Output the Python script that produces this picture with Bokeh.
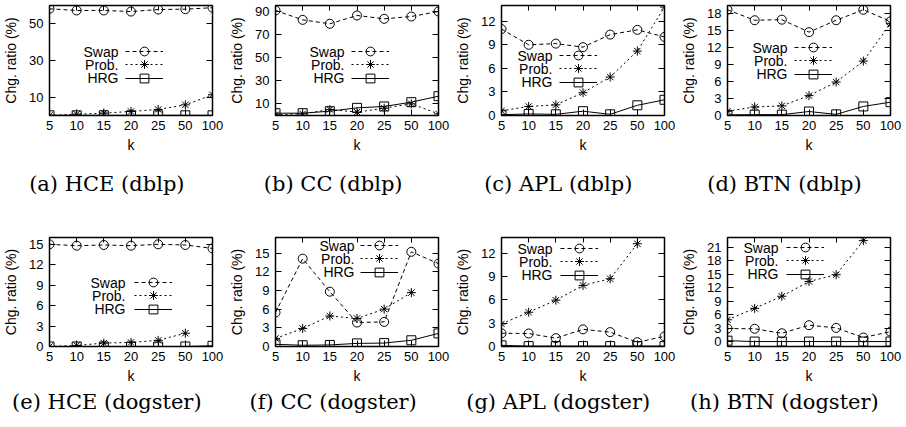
from bokeh.plotting import figure
from bokeh.layouts import column, row
from bokeh.models import Range1d, FixedTicker, LinearAxis, Legend, LegendItem, Label, Title
from bokeh.embed import file_html
from bokeh.resources import INLINE

NaN = float("nan")

k_labels = ["5", "10", "15", "20", "25", "50", "100"]
series_names = ["Swap", "Prob.", "HRG"]

# (a) HCE (dblp)
a_swap = [58.2, 57.3, 57.3, 56.7, 57.8, 58.0, 58.8]
a_prob = [0.1, 0.7, 1.3, 2.2, 3.3, 5.8, 11.3]
a_hrg = [0.1, 0.1, 0.1, 0.1, 0.1, 0.1, 0.1]
# (b) CC (dblp)
b_swap = [90.7, 82.6, 79.2, 86.4, 83.5, 85.5, 89.8]
b_prob = [0.6, 1.4, 5.2, 2.9, 6.3, 10.1, 1.4]
b_hrg = [2.0, 2.0, 3.7, 6.6, 7.8, 11.5, 16.7]
# (c) APL (dblp)
c_swap = [11.0, 9.0, 9.15, 8.7, 10.3, 10.9, 10.0]
c_prob = [0.6, 1.15, 1.35, 2.9, 4.9, 8.2, 13.8]
c_hrg = [0.1, 0.2, 0.15, 0.55, 0.15, 1.3, 2.0]
# (d) BTN (dblp)
d_swap = [18.65, 16.8, 16.9, 14.7, 16.8, 18.65, 16.6]
d_prob = [0.75, 1.5, 1.7, 3.5, 5.9, 9.6, 16.2]
d_hrg = [0.1, 0.15, 0.15, 0.7, 0.2, 1.6, 2.35]
# (e) HCE (dogster)
e_swap = [15.0, 14.8, 14.9, 14.8, 15.0, 14.9, 14.4]
e_prob = [0.0, 0.15, 0.5, 0.6, 0.9, 1.95, NaN]
e_hrg = [0.0, 0.0, 0.0, 0.0, 0.0, 0.0, 0.1]
# (f) CC (dogster)
f_swap = [5.45, 14.1, 8.8, 3.85, 3.95, 15.2, 13.3]
f_prob = [1.3, 2.9, 4.9, 4.5, 6.0, 8.65, NaN]
f_hrg = [0.35, 0.2, 0.25, 0.5, 0.55, 1.0, 2.1]
# (g) APL (dogster)
g_swap = [1.7, 1.67, 1.07, 2.2, 1.85, 0.55, 1.3]
g_prob = [2.9, 4.4, 5.95, 7.85, 8.7, 13.2, NaN]
g_hrg = [0.15, 0.05, 0.05, 0.05, 0.05, 0.05, 0.05]
# (h) BTN (dogster)
h_swap = [2.9, 2.85, 1.85, 3.65, 3.05, 0.9, 2.2]
h_prob = [4.85, 7.4, 10.1, 13.4, 14.9, 22.5, NaN]
h_hrg = [0.2, 0.0, 0.0, 0.0, 0.0, 0.0, 0.0]

captions = ["(a) HCE (dblp)", "(b) CC (dblp)", "(c) APL (dblp)", "(d) BTN (dblp)",
            "(e) HCE (dogster)", "(f) CC (dogster)", "(g) APL (dogster)", "(h) BTN (dogster)"]
data = [(a_swap, a_prob, a_hrg), (b_swap, b_prob, b_hrg), (c_swap, c_prob, c_hrg),
        (d_swap, d_prob, d_hrg), (e_swap, e_prob, e_hrg), (f_swap, f_prob, f_hrg),
        (g_swap, g_prob, g_hrg), (h_swap, h_prob, h_hrg)]
y_ranges = [(0, 60), (0, 95), (0, 14), (0, 19.4), (0, 16), (0, 17.5), (0, 14), (-1.1, 23.2)]
y_ticks = [[10, 30, 50], [10, 30, 50, 70, 90], [0, 3, 6, 9, 12], [0, 3, 6, 9, 12, 15, 18],
           [0, 3, 6, 9, 12, 15], [0, 3, 6, 9, 12, 15], [0, 3, 6, 9, 12], [0, 3, 6, 9, 12, 15, 18, 21]]

# legend layout per panel: text right edge, sample left edge, first row centre (px from frame top/left)
legend_pos = [(69, 76, 46), (69, 76, 46), (51, 58, 50), (60, 67, 42),
              (76, 85, 45), (79, 85, 8), (51, 59, 11), (51, 59, 10)]
ROW = 13.3

SANS = "Liberation Sans"
SERIF = "DejaVu Serif"
CAP_SIZE = 21
styles = [dict(dash="4 3", marker="circle"), dict(dash="2 3", marker="asterisk"),
          dict(dash="solid", marker="square")]

# approximate DejaVu Serif advance widths (em) for centring captions
_W = {" ": 0.318, "(": 0.390, ")": 0.390, "a": 0.596, "b": 0.640, "c": 0.560, "d": 0.640,
      "e": 0.592, "f": 0.370, "g": 0.640, "h": 0.644, "l": 0.320, "o": 0.602, "p": 0.640,
      "r": 0.478, "s": 0.513, "t": 0.402, "A": 0.722, "B": 0.735, "C": 0.733, "E": 0.729,
      "H": 0.872, "L": 0.673, "N": 0.865, "P": 0.690, "T": 0.687}


def text_w(s, size):
    return sum(_W.get(ch, 0.6) for ch in s) * size


FW = 163
G = 22
LEFT = 48


def make(i):
    top = i < 4
    last = (i % 4) == 3
    fh = 110 if top else 109
    p = figure(frame_width=FW, frame_height=fh, x_range=Range1d(0, len(k_labels) - 1),
               y_range=Range1d(*y_ranges[i]), output_backend="svg", toolbar_location=None,
               min_border_left=LEFT, min_border_right=(16 if last else 14), min_border_top=5,
               min_border_bottom=(117 if top else 78))
    p.grid.visible = False
    p.outline_line_color = "black"
    p.outline_line_width = 1.5
    p.background_fill_color = "white"
    p.border_fill_color = "white"

    xt = list(range(len(k_labels)))
    p.xaxis.ticker = FixedTicker(ticks=xt)
    p.xaxis.major_label_overrides = {j: lab for j, lab in enumerate(k_labels)}
    p.yaxis.ticker = FixedTicker(ticks=y_ticks[i])
    for ax in (p.xaxis[0], p.yaxis[0]):
        ax.axis_line_color = None
        ax.major_tick_in = 6
        ax.major_tick_out = 0
        ax.minor_tick_line_color = None
        ax.major_tick_line_color = "black"
        ax.major_label_text_font = SANS
        ax.major_label_text_font_size = "13px"
        ax.major_label_text_color = "black"
        ax.axis_label_text_font = SANS
        ax.axis_label_text_font_size = "14px"
        ax.axis_label_text_font_style = "normal"
        ax.axis_label_text_color = "black"
    p.xaxis.axis_label = "k"
    p.xaxis.major_label_standoff = 5
    p.xaxis.axis_label_standoff = 4
    p.yaxis.axis_label = "Chg. ratio (%)"
    p.yaxis.major_label_standoff = 6
    p.yaxis.axis_label_standoff = 7

    ra = LinearAxis(ticker=FixedTicker(ticks=y_ticks[i]), axis_line_color=None,
                    major_tick_in=6, major_tick_out=0, minor_tick_line_color=None,
                    major_label_text_font_size="0px", major_label_standoff=0,
                    major_label_overrides={t: "" for t in y_ticks[i]})
    p.add_layout(ra, "right")
    ta = LinearAxis(ticker=FixedTicker(ticks=xt), axis_line_color=None,
                    major_tick_in=5, major_tick_out=0, minor_tick_line_color=None,
                    major_label_text_font_size="0px", major_label_standoff=0,
                    major_label_overrides={t: "" for t in xt})
    p.add_layout(ta, "above")

    tx, sx0, r1 = legend_pos[i]
    for j, (name, vals, st) in enumerate(zip(series_names, data[i], styles)):
        ln = p.line(xt, vals, line_color="black", line_width=1, line_dash=st["dash"])
        sc = p.scatter(xt, vals, marker=st["marker"], size=9, line_color="black",
                       fill_color=None, line_width=1)
        rj = r1 + j * ROW
        leg = Legend(items=[LegendItem(label=name, renderers=[ln, sc])],
                     location=(sx0, fh - rj - G / 2), glyph_width=38, glyph_height=G,
                     label_height=G, spacing=0, padding=0, margin=0,
                     border_line_alpha=0, background_fill_alpha=0, label_text_alpha=0,
                     label_standoff=0, label_width=1, label_text_font_size="1px")
        p.add_layout(leg)
        p.add_layout(Label(x=tx, y=fh - rj, x_units="screen", y_units="screen",
                           text=name, text_align="right", text_baseline="middle",
                           text_font=SANS, text_font_size="14px", text_color="black"))

    cap = captions[i]
    off = 57 - text_w(cap, CAP_SIZE) / 2
    p.add_layout(Title(text=cap, align="left", offset=off, text_font=SERIF,
                       text_font_size=f"{CAP_SIZE}px", text_font_style="normal",
                       text_color="black", vertical_align="middle",
                       standoff=(31 if top else 5)), "below")
    return p


figs = [make(i) for i in range(8)]
layout = column(row(*figs[:4]), row(*figs[4:]))
open("out.html", "w").write(file_html(layout, INLINE))
